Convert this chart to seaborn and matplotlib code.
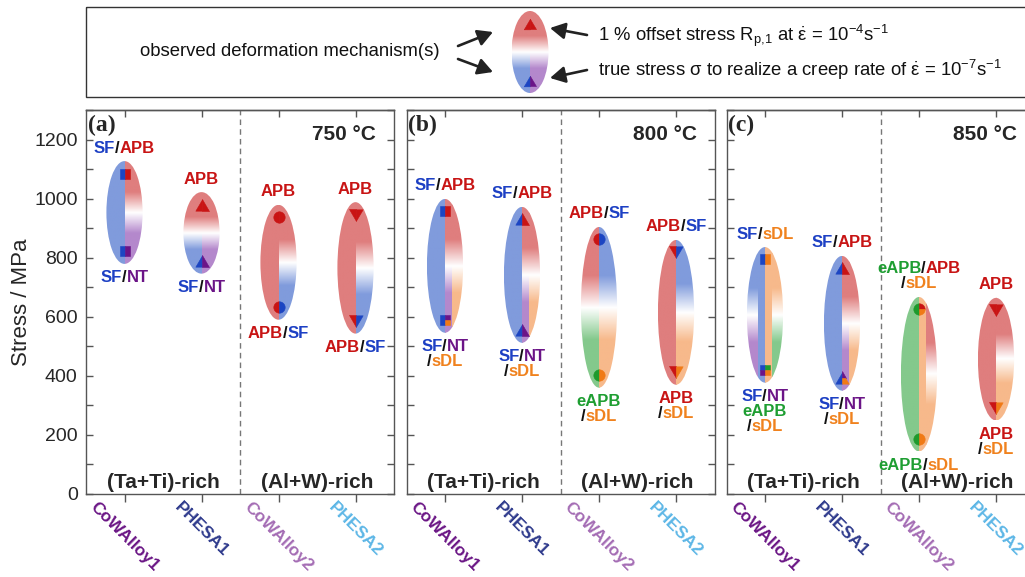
import re
import numpy as np
import pandas as pd
import matplotlib
matplotlib.use("Agg")
import matplotlib.pyplot as plt
import seaborn as sns
from matplotlib.patches import Ellipse, Rectangle
from matplotlib.path import Path
from matplotlib.markers import MarkerStyle
from matplotlib.ticker import MultipleLocator
from matplotlib.transforms import offset_copy, blended_transform_factory
from matplotlib.colors import to_rgb

# ------------------------------------------------------------------ data
alloys = ["CoWAlloy1", "PHESA1", "CoWAlloy2", "PHESA2"]
alloy_colors = ["#6a1585", "#2e3a8c", "#a46cb4", "#5cb6e6"]
alloy_shapes = ["square", "tri_up", "circle", "tri_down"]
panel_tags = ["(a)", "(b)", "(c)"]
temperatures = ["750 °C", "800 °C", "850 °C"]
groups = ["(Ta+Ti)-rich", "(Al+W)-rich"]

# 1 % offset stress (upper marker) and creep true stress (lower marker), MPa
yield_750 = [1085, 980, 937, 946]
creep_750 = [821, 788, 632, 585]
yield_800 = [957, 930, 862, 818]
creep_800 = [588, 554, 402, 412]
yield_850 = [794, 764, 625, 622]
creep_850 = [419, 392, 186, 291]

labels_top_750 = ["SF/APB", "APB", "APB", "APB"]
labels_bot_750 = ["SF/NT", "SF/NT", "APB/SF", "APB/SF"]
labels_top_800 = ["SF/APB", "SF/APB", "APB/SF", "APB/SF"]
labels_bot_800 = ["SF/NT\n/sDL", "SF/NT\n/sDL", "eAPB\n/sDL", "APB\n/sDL"]
labels_top_850 = ["SF/sDL", "SF/APB", "eAPB/APB\n/sDL", "APB"]
labels_bot_850 = ["SF/NT\neAPB\n/sDL", "SF/NT\n/sDL", "eAPB/sDL", "APB\n/sDL"]

# ellipse halves: [left strips, right strips]; strip = (upper mech, lower mech), inner first
fill_750 = [
    [[("SF", "SF")], [("APB", "NT")]],
    [[("APB", "SF")], [("APB", "NT")]],
    [[("APB", "APB")], [("APB", "SF")]],
    [[("APB", "APB")], [("APB", "SF")]],
]
fill_800 = [
    [[("SF", "SF")], [("APB", "NT"), ("APB", "sDL")]],
    [[("SF", "SF")], [("APB", "NT"), ("APB", "sDL")]],
    [[("APB", "eAPB")], [("SF", "sDL")]],
    [[("APB", "APB")], [("SF", "sDL")]],
]
fill_850 = [
    [[("SF", "SF"), ("SF", "NT")], [("sDL", "sDL"), ("sDL", "eAPB")]],
    [[("SF", "SF")], [("APB", "NT"), ("APB", "sDL")]],
    [[("eAPB", "eAPB")], [("sDL", "sDL"), ("APB", "sDL")]],
    [[("APB", "APB")], [("APB", "sDL")]],
]

# marker quadrants (top-left, top-right, bottom-left, bottom-right)
mtop_750 = [("SF", "APB", "SF", "APB"), ("APB", "APB", "APB", "APB"),
            ("APB", "APB", "APB", "APB"), ("APB", "APB", "APB", "APB")]
mbot_750 = [("SF", "NT", "SF", "NT"), ("SF", "NT", "SF", "NT"),
            ("APB", "SF", "APB", "SF"), ("APB", "SF", "APB", "SF")]
mtop_800 = [("SF", "APB", "SF", "APB"), ("SF", "APB", "SF", "APB"),
            ("APB", "SF", "APB", "SF"), ("APB", "SF", "APB", "SF")]
mbot_800 = [("SF", "NT", "SF", "sDL"), ("SF", "NT", "SF", "NT"),
            ("eAPB", "sDL", "eAPB", "sDL"), ("APB", "sDL", "APB", "sDL")]
mtop_850 = [("SF", "sDL", "SF", "sDL"), ("SF", "APB", "SF", "APB"),
            ("eAPB", "APB", "eAPB", "sDL"), ("APB", "APB", "APB", "APB")]
mbot_850 = [("SF", "eAPB", "NT", "sDL"), ("SF", "NT", "SF", "sDL"),
            ("eAPB", "sDL", "eAPB", "sDL"), ("APB", "sDL", "APB", "sDL")]

# legend key
legend_fill = [[("APB", "SF")], [("APB", "NT")]]
legend_mtop = ("APB", "APB", "APB", "APB")
legend_mbot = ("SF", "NT", "SF", "NT")

# ------------------------------------------------------------------ styles
mech_fill = {"SF": "#809bdc", "APB": "#df7e7e", "NT": "#b488cc",
             "sDL": "#f7b98b", "eAPB": "#84c98c"}
mech_mark = {"SF": "#1c45c2", "APB": "#c91414", "NT": "#6b1487",
             "sDL": "#f07a16", "eAPB": "#1e9a2c"}
mech_text = {"SF": "#1d40c4", "APB": "#c81414", "NT": "#6b1487",
             "sDL": "#f0821e", "eAPB": "#1e9e32", "/": "#111111"}
marker_size = {"square": 7.8, "tri_up": 9.6, "circle": 8.2, "tri_down": 9.6}
SPINE = "#555555"

sns.set_style("ticks")
plt.rcParams["font.family"] = ["Liberation Sans", "DejaVu Sans"]
plt.rcParams["mathtext.fontset"] = "custom"
plt.rcParams["mathtext.rm"] = "Liberation Sans"
plt.rcParams["mathtext.it"] = "Liberation Sans:italic"
plt.rcParams["mathtext.bf"] = "Liberation Sans:bold"
plt.rcParams["mathtext.default"] = "regular"

W, H = 1025, 577
fig = plt.figure(figsize=(W / 100, H / 100), dpi=100)
renderer = fig.canvas.get_renderer()


def pos(l, t, r, b):
    return [l / W, 1 - b / H, (r - l) / W, (b - t) / H]


# ------------------------------------------------------------------ helpers
def shape_poly(name):
    if name == "square":
        return np.array([(-1, -1), (1, -1), (1, 1), (-1, 1)], float)
    if name == "tri_up":
        return np.array([(0, 0.85), (-1, -0.85), (1, -0.85)], float)
    if name == "tri_down":
        return np.array([(0, -0.85), (1, 0.85), (-1, 0.85)], float)
    a = np.linspace(0, 2 * np.pi, 73)[:-1]
    return np.column_stack([np.cos(a), np.sin(a)])


def clip_half(poly, axis, sign):
    out = []
    n = len(poly)
    for i in range(n):
        p, q = poly[i], poly[(i + 1) % n]
        pin, qin = sign * p[axis] >= 0, sign * q[axis] >= 0
        if pin:
            out.append(p)
        if pin != qin:
            t = p[axis] / (p[axis] - q[axis])
            out.append(p + t * (q - p))
    return np.array(out)


def region_paths(shape, quads):
    tl, tr, bl, br = quads
    poly = shape_poly(shape)
    regions = []
    for side, (top, bot) in ((-1, (tl, bl)), (1, (tr, br))):
        half = clip_half(poly, 0, side)
        if top == bot:
            regions.append((half, top))
        else:
            regions.append((clip_half(half, 1, 1), top))
            regions.append((clip_half(half, 1, -1), bot))
    out = []
    for verts, mech in regions:
        v = np.vstack([verts, verts[:1]])
        codes = [Path.MOVETO] + [Path.LINETO] * (len(verts) - 1) + [Path.CLOSEPOLY]
        out.append((Path(v, codes), mech))
    return out


def draw_marker(ax, x, y, shape, quads, size):
    for path, mech in region_paths(shape, quads):
        c = mech_mark[mech]
        sns.scatterplot(x=[x], y=[y], marker=MarkerStyle(path), s=size ** 2,
                        color=c, edgecolor=c, linewidth=0.4, ax=ax,
                        legend=False, zorder=5)


def grad_img(ct, cb, n=240):
    t = np.linspace(0, 1, n)[:, None]
    top, bot, white = np.array(to_rgb(ct)), np.array(to_rgb(cb)), np.ones(3)
    if ct == cb:
        col = np.tile(top, (n, 1))
    else:
        a1 = np.clip((t - 0.3) / 0.2, 0, 1)
        a2 = np.clip((t - 0.5) / 0.2, 0, 1)
        col = np.where(t < 0.5, top * (1 - a1) + white * a1,
                       white * (1 - a2) + bot * a2)
    return np.repeat(col[:, None, :], 2, axis=1)


def draw_ellipse(ax, cx, ytop, ybot, w, halves, inner=0.4):
    ell = Ellipse((cx, (ytop + ybot) / 2), w, abs(ytop - ybot),
                  transform=ax.transData)
    hw = w / 2
    for side, strips in zip((-1, 1), halves):
        if len(strips) == 1:
            bounds = [(0, hw)]
        else:
            bounds = [(0, inner * hw), (inner * hw, hw)]
        for (b0, b1), (mt, mb) in zip(bounds, strips):
            xa, xb = sorted((cx + side * b0, cx + side * b1))
            im = ax.imshow(grad_img(mech_fill[mt], mech_fill[mb]),
                           extent=(xa, xb, ybot, ytop), origin="upper",
                           aspect="auto", interpolation="bilinear", zorder=2)
            im.set_clip_path(ell)


def colored_label(ax, x, y, text, first_dy, step, fs=12):
    lines = text.split("\n")
    if step > 0:
        lines = lines[::-1]
    for k, line in enumerate(lines):
        toks = re.findall(r"eAPB|APB|SF|NT|sDL|/", line)
        ts = [ax.text(x, y, tk, color=mech_text[tk], fontsize=fs,
                      fontweight="bold", ha="left", va="center", zorder=6)
              for tk in toks]
        ws = [t.get_window_extent(renderer).width for t in ts]
        dx = -sum(ws) / 2
        dy = first_dy + k * step
        for t, wdt in zip(ts, ws):
            t.set_transform(offset_copy(ax.transData, fig=fig, x=dx, y=dy,
                                        units="dots"))
            dx += wdt


# ------------------------------------------------------------------ panels
yields = [yield_750, yield_800, yield_850]
creeps = [creep_750, creep_800, creep_850]
ltops = [labels_top_750, labels_top_800, labels_top_850]
lbots = [labels_bot_750, labels_bot_800, labels_bot_850]
fills = [fill_750, fill_800, fill_850]
mtops = [mtop_750, mtop_800, mtop_850]
mbots = [mbot_750, mbot_800, mbot_850]
lefts = [86, 406.5, 726.5]

ELL_W = 0.47
ELL_PAD = 42

for p in range(3):
    ax = fig.add_axes(pos(lefts[p], 110, lefts[p] + 308, 494))
    ax.set_facecolor("white")
    for i in range(4):
        top, bot = yields[p][i], creeps[p][i]
        et, eb = top + ELL_PAD, bot - ELL_PAD
        draw_ellipse(ax, i, et, eb, ELL_W, fills[p][i])
        sz = marker_size[alloy_shapes[i]]
        draw_marker(ax, i, top, alloy_shapes[i], mtops[p][i], sz)
        draw_marker(ax, i, bot, alloy_shapes[i], mbots[p][i], sz)
        colored_label(ax, i, et, ltops[p][i], 13, 15)
        colored_label(ax, i, eb, lbots[p][i], -14, -15)

    ax.axvline(1.5, color="#777777", ls=(0, (4, 3)), lw=1.0, zorder=1)
    ax.set_xlim(-0.5, 3.5)
    ax.set_ylim(0, 1300)
    ax.set_xlabel("")
    ax.set_ylabel("")

    ax.yaxis.set_major_locator(MultipleLocator(200))
    ax.yaxis.set_minor_locator(MultipleLocator(100))
    ax.tick_params(axis="y", which="both", direction="in", left=True,
                   right=True, length=5, width=1.0, color=SPINE,
                   labelsize=14, pad=6, labelleft=(p == 0))
    ax.set_xticks(range(4))
    ax.set_xticklabels(alloys, rotation=-45, ha="center", fontweight="bold",
                       fontsize=12.5)
    for lab, c in zip(ax.get_xticklabels(), alloy_colors):
        lab.set_color(c)
    ax.tick_params(axis="x", direction="out", length=6, width=1.0,
                   color=SPINE, pad=-2)
    sec = ax.secondary_xaxis("top")
    sec.set_xticks(range(4))
    sec.tick_params(axis="x", direction="in", length=5, width=1.0,
                    color=SPINE, labeltop=False)
    for s in sec.spines.values():
        s.set_color(SPINE)
        s.set_linewidth(1.0)
    for s in ax.spines.values():
        s.set_visible(True)
        s.set_color(SPINE)
        s.set_linewidth(1.0)

    ax.text(0.005, 0.961, panel_tags[p], transform=ax.transAxes,
            family=["Liberation Serif", "DejaVu Serif"], fontweight="bold",
            fontsize=17, ha="left", va="center")
    ax.text(0.942, 0.935, temperatures[p], transform=ax.transAxes,
            fontweight="bold", fontsize=15, ha="right", va="center")
    btr = blended_transform_factory(ax.transData, ax.transAxes)
    for g, gx in zip(groups, (0.5, 2.5)):
        ax.text(gx, 0.031, g, transform=btr, fontweight="bold", fontsize=15,
                ha="center", va="center")
    if p == 0:
        ax.set_ylabel("Stress / MPa", fontsize=16)
        ax.yaxis.set_label_coords(-0.175, 0.5)

# ------------------------------------------------------------------ key box
lg = fig.add_axes([0, 0, 1, 1])
lg.patch.set_alpha(0)
lg.add_patch(Rectangle((86, 7), 1000, 90, fill=False, edgecolor="#333333",
                       lw=1.0))
draw_ellipse(lg, 530, 11, 93, 37, legend_fill)
draw_marker(lg, 530, 24, "tri_up", legend_mtop, 9.0)
draw_marker(lg, 530, 81, "tri_up", legend_mbot, 9.0)
lg.text(140, 52, "observed deformation mechanism(s)", fontsize=13.3,
        ha="left", va="center", color="#111111")
lg.text(598, 36, r"1 % offset stress R$_{p,\!1}$ at $\dot{\varepsilon}$ = 10$^{-4}$s$^{-1}$",
        fontsize=13.3, ha="left", va="center", color="#111111")
lg.text(598, 70, r"true stress σ to realize a creep rate of $\dot{\varepsilon}$ = 10$^{-7}$s$^{-1}$",
        fontsize=13.3, ha="left", va="center", color="#111111")
arrow_kw = dict(arrowstyle="-|>,head_length=0.6,head_width=0.33",
                color="#222222", lw=1.9, shrinkA=0, shrinkB=0,
                mutation_scale=15)
for (x0, y0), (x1, y1) in [((458, 46), (493, 32)), ((458, 59), (493, 72)),
                           ((587, 35), (550, 28)), ((587, 70), (550, 78))]:
    lg.annotate("", xy=(x1, y1), xytext=(x0, y0), arrowprops=arrow_kw)
lg.set_xlim(0, W)
lg.set_ylim(H, 0)
lg.axis("off")

fig.savefig("out.png", dpi=100)
